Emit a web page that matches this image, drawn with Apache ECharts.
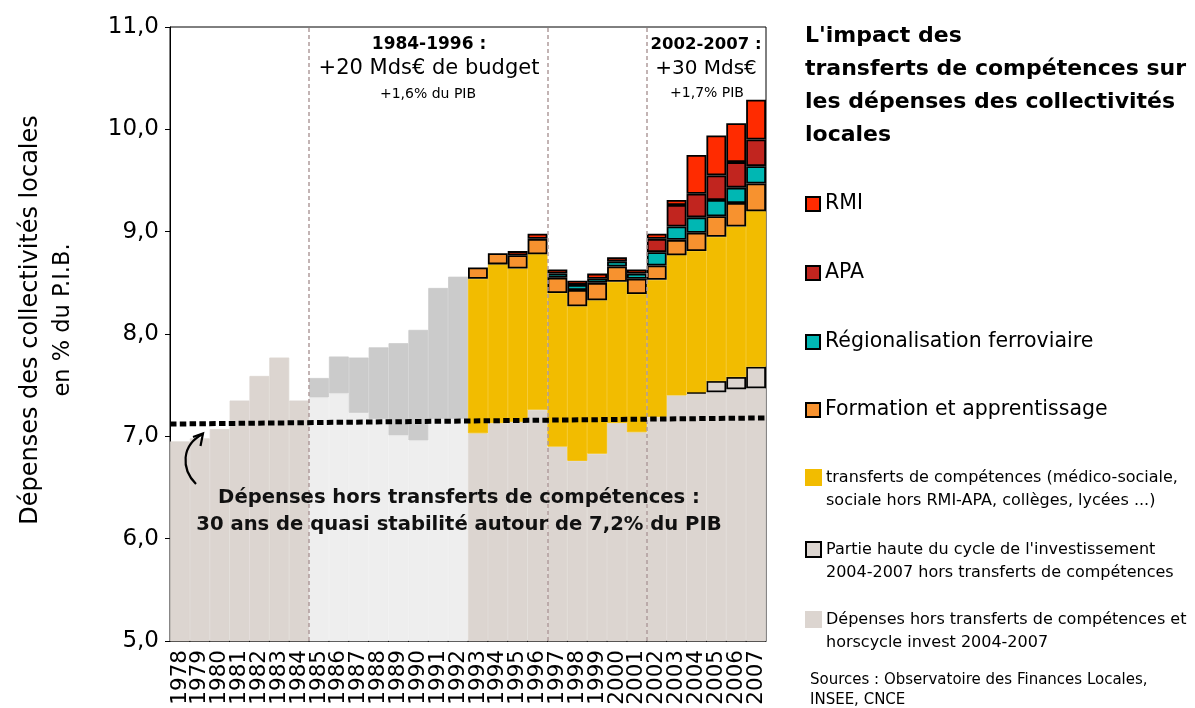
<!DOCTYPE html>
<html>
<head>
<meta charset="utf-8">
<script src="https://cdn.jsdelivr.net/npm/echarts@6/dist/echarts.min.js"></script>
<style>
  html, body { margin: 0; padding: 0; background: #fff; }
  #chart { width: 1195px; height: 708px; }
</style>
</head>
<body>
<div id="chart"></div>
<script>
var FONT = 'DejaVu Sans, Verdana, sans-serif';

var years = ['1978','1979','1980','1981','1982','1983','1984','1985','1986','1987',
             '1988','1989','1990','1991','1992','1993','1994','1995','1996','1997',
             '1998','1999','2000','2001','2002','2003','2004','2005','2006','2007'];

// dépenses hors transferts (base)
var baseVals = [6.95, 6.98, 7.07, 7.35, 7.59, 7.77, 7.35, 7.38, 7.42, 7.23,
                7.17, 7.01, 6.96, 7.17, 7.17, 7.03, 7.13, 7.14, 7.26, 6.90,
                6.76, 6.83, 7.13, 7.04, 7.19, 7.40, 7.42, 7.43, 7.46, 7.47];
// partie haute du cycle d'investissement
var cycleVals = ['-','-','-','-','-','-','-','-','-','-','-','-','-','-','-',
                 '-','-','-','-','-','-','-','-','-','-','-', 0.01, 0.11, 0.12, 0.21];
// transferts 1984-1996 (hachuré)
var transf84 = ['-','-','-','-','-','-','-', 0.19, 0.36, 0.54, 0.70, 0.90, 1.08, 1.28, 1.39,
                '-','-','-','-','-','-','-','-','-','-','-','-','-','-','-'];
var transfVals = ['-','-','-','-','-','-','-','-','-','-','-','-','-','-','-',
                  1.51, 1.55, 1.50, 1.52, 1.50, 1.51, 1.50, 1.38, 1.35, 1.34, 1.37, 1.38, 1.41, 1.47, 1.52];
var formationVals = ['-','-','-','-','-','-','-','-','-','-','-','-','-','-','-',
                     0.11, 0.11, 0.13, 0.15, 0.15, 0.16, 0.17, 0.15, 0.15, 0.14, 0.15, 0.18, 0.20, 0.23, 0.27];
var ferroVals = ['-','-','-','-','-','-','-','-','-','-','-','-','-','-','-',
                 '-','-','-','-', 0.04, 0.05, 0.04, 0.05, 0.05, 0.13, 0.13, 0.15, 0.16, 0.15, 0.17];
var apaVals = ['-','-','-','-','-','-','-','-','-','-','-','-','-','-','-',
               '-','-','-','-','-','-','-','-','-', 0.13, 0.21, 0.23, 0.24, 0.25, 0.26];
var rmiVals = ['-','-','-','-','-','-','-','-','-','-','-','-','-','-','-',
               '-','-', 0.04, 0.05, 0.04, 0.04, 0.05, 0.04, 0.04, 0.05, 0.05, 0.38, 0.39, 0.38, 0.39];

var yTicks = [5, 6, 7, 8, 9, 10, 11];
var trendLine = [[0, 7.12], [30, 7.18]];   // "autour de 7,2% du PIB"
var periodBounds = [7, 19, 24];             // 1985 | 1997 | 2002

var legendLabels = {
  'RMI': 'RMI',
  'APA': 'APA',
  'Ferro': 'Régionalisation ferroviaire',
  'Formation': 'Formation et apprentissage',
  // leading blank line so the first line sits level with the icon
  'Transferts': ' \ntransferts de compétences (médico-sociale,\nsociale hors RMI-APA, collèges, lycées ...)',
  'Cycle': ' \nPartie haute du cycle de l\'investissement\n2004-2007 hors transferts de compétences',
  'Base': ' \nDépenses hors transferts de compétences et\nhorscycle invest 2004-2007'
};

var LIGHT = '#eeeeee';
var baseData = baseVals.map(function (v, i) {
  var y = +years[i];
  if (y >= 1985 && y <= 1992) {
    return { value: v, itemStyle: { color: LIGHT, borderColor: LIGHT } };
  }
  return v;
});

function fmt(v) { return v.toFixed(1).replace('.', ','); }

function bigLegend(name, top) {
  return {
    data: [name], left: 805, top: top, padding: 0,
    itemWidth: 14, itemHeight: 14, icon: 'rect', selectedMode: false,
    formatter: function (n) { return legendLabels[n]; },
    textStyle: { fontSize: 20.5, lineHeight: 24, color: '#000', fontFamily: FONT }
  };
}
function smallLegend(name, top) {
  return {
    data: [name], left: 805, top: top, padding: 0,
    itemWidth: 15, itemHeight: 15, icon: 'rect', selectedMode: false,
    formatter: function (n) { return legendLabels[n]; },
    textStyle: { fontSize: 16, lineHeight: 23, color: '#000', fontFamily: FONT }
  };
}

function stackBar(name, data, color, border) {
  return {
    name: name, type: 'bar', stack: 'tot', data: data,
    barCategoryGap: '0%', z: 2,
    itemStyle: { color: color, borderColor: border ? '#000' : color, borderWidth: border ? 1.8 : 0.8 }
  };
}

var chart = echarts.init(document.getElementById('chart'));
chart.setOption({
  animation: false,
  textStyle: { fontFamily: FONT },
  title: {
    text: 'L\'impact des\ntransferts de compétences sur\nles dépenses des collectivités\nlocales',
    left: 805, top: 20, padding: 0,
    textStyle: { fontSize: 22, fontWeight: 'bold', lineHeight: 33, color: '#000', fontFamily: FONT }
  },
  legend: [
    bigLegend('RMI', 192),
    bigLegend('APA', 261),
    bigLegend('Ferro', 330),
    bigLegend('Formation', 398),
    smallLegend('Transferts', 443),
    smallLegend('Cycle', 515),
    smallLegend('Base', 585)
  ],
  grid: { left: 170, right: 429, top: 27, bottom: 67, show: true, borderColor: '#000', borderWidth: 1 },
  xAxis: [{
    type: 'category', data: years,
    axisLine: { lineStyle: { color: '#000', width: 1 } },
    axisTick: { interval: 0, length: 6, lineStyle: { color: '#000' } },
    axisLabel: { interval: 0, rotate: 90, fontSize: 21.5, margin: 9, color: '#000', fontFamily: FONT }
  }, {
    type: 'value', min: 0, max: 30, show: false
  }],
  yAxis: {
    type: 'value', min: yTicks[0], max: yTicks[yTicks.length - 1], interval: 1,
    name: '{a|Dépenses des collectivités locales}\n{b|en % du P.I.B.}',
    nameLocation: 'middle', nameRotate: 90, nameGap: 90,
    nameTextStyle: {
      color: '#000', fontFamily: FONT, padding: [0, 0, 0, 28],
      rich: {
        a: { fontSize: 24, lineHeight: 33, color: '#000', fontFamily: FONT },
        b: { fontSize: 22.5, lineHeight: 33, color: '#000', fontFamily: FONT }
      }
    },
    splitLine: { show: false },
    axisLine: { show: true, lineStyle: { color: '#000', width: 1 } },
    axisTick: { show: true, length: 5, lineStyle: { color: '#000' } },
    axisLabel: { fontSize: 23, margin: 11, color: '#000', fontFamily: FONT, formatter: fmt }
  },
  series: [
    stackBar('Base', baseData, '#dcd5d0', false),
    stackBar('Cycle', cycleVals, '#dcd5d0', true),
    stackBar('Transf84', transf84, '#cbcbcb', false),
    stackBar('Transferts', transfVals, '#f2bc00', false),
    stackBar('Formation', formationVals, '#f7922f', true),
    stackBar('Ferro', ferroVals, '#00b7b3', true),
    stackBar('APA', apaVals, '#c1251f', true),
    stackBar('RMI', rmiVals, '#ff2b00', true),
    {
      name: 'bounds', type: 'line', xAxisIndex: 1, data: [], z: 1,
      markLine: {
        silent: true, symbol: 'none', label: { show: false },
        lineStyle: { color: '#b09c9c', type: [4, 3], width: 1.5 },
        data: periodBounds.map(function (b) { return { xAxis: b }; })
      }
    },
    {
      name: 'trend', type: 'line', xAxisIndex: 1, data: trendLine, z: 5,
      symbol: 'none', silent: true,
      lineStyle: { color: '#000', width: 5, type: [6.5, 3.3] }
    }
  ],
  graphic: [
    { type: 'text', x: 429, y: 45, style: { text: '1984-1996 :', font: 'bold 17px ' + FONT, fill: '#000', align: 'center', verticalAlign: 'middle' } },
    { type: 'text', x: 429, y: 69, style: { text: '+20 Mds€ de budget', font: '21px ' + FONT, fill: '#000', align: 'center', verticalAlign: 'middle' } },
    { type: 'text', x: 428, y: 94, style: { text: '+1,6% du PIB', font: '14px ' + FONT, fill: '#000', align: 'center', verticalAlign: 'middle' } },
    { type: 'text', x: 706, y: 45, style: { text: '2002-2007 :', font: 'bold 16.5px ' + FONT, fill: '#000', align: 'center', verticalAlign: 'middle' } },
    { type: 'text', x: 706, y: 69, style: { text: '+30 Mds€', font: '20px ' + FONT, fill: '#000', align: 'center', verticalAlign: 'middle' } },
    { type: 'text', x: 707, y: 93, style: { text: '+1,7% PIB', font: '14px ' + FONT, fill: '#000', align: 'center', verticalAlign: 'middle' } },
    { type: 'text', x: 459, y: 511, z: 10, style: {
        text: 'Dépenses hors transferts de compétences :\n30 ans de quasi stabilité autour de 7,2% du PIB',
        font: 'bold 19.6px ' + FONT, lineHeight: 27, fill: '#111', align: 'center', verticalAlign: 'middle' } },
    { type: 'bezierCurve', z: 10,
      shape: { x1: 196, y1: 484, cpx1: 181, cpy1: 469, cpx2: 181, cpy2: 445, x2: 203, y2: 434 },
      style: { fill: 'none', stroke: '#000', lineWidth: 2.2 } },
    { type: 'polyline', z: 10, shape: { points: [[193, 437], [203, 433.5], [200.5, 446]] },
      style: { fill: 'none', stroke: '#000', lineWidth: 2.2 } },
    { type: 'text', x: 810, y: 690, style: {
        text: 'Sources : Observatoire des Finances Locales,\nINSEE, CNCE',
        font: '15px ' + FONT, lineHeight: 20, fill: '#000', verticalAlign: 'middle' } }
  ]
});
</script>
</body>
</html>
